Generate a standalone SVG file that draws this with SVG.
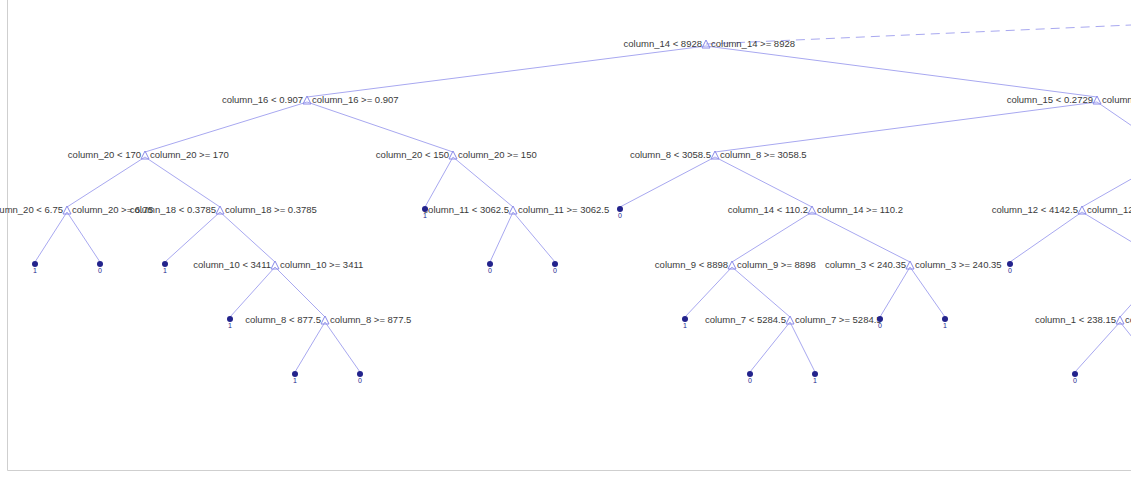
<svg xmlns="http://www.w3.org/2000/svg" width="1131" height="500" viewBox="0 0 1131 500">
<style>
.lbl{font-family:"Liberation Sans",Arial,sans-serif;font-size:9.5px;fill:#3a3a3a}
.l{text-anchor:end}
.r{text-anchor:start}
.tri{fill:none;stroke:#8a8ae8;stroke-width:1}
.edge{stroke:#a8a8f0;stroke-width:1;fill:none}
.dash{stroke-dasharray:9 6}
.leaf{fill:#23238c}
.lv{font-family:"Liberation Sans",Arial,sans-serif;font-size:7px;fill:#23238c;text-anchor:middle}
.frame{stroke:#cfcfcf;stroke-width:1;fill:none}
</style>
<defs>
<polygon id="tri" class="tri" points="-4,4 0,-4 4,4"/>
</defs>
<rect width="1131" height="500" fill="#ffffff"/>
<path class="frame" d="M7.5,0 V470.5 H1131"/>
<g id="connectors">
<line class="edge dash" x1="706" y1="44" x2="1131" y2="25"/>
<line class="edge" x1="706" y1="46" x2="307" y2="97"/>
<line class="edge" x1="706" y1="46" x2="1097" y2="97"/>
<line class="edge" x1="307" y1="102" x2="145" y2="152"/>
<line class="edge" x1="307" y1="102" x2="453" y2="152"/>
<line class="edge" x1="1097" y1="102" x2="715" y2="152"/>
<line class="edge" x1="1097" y1="102" x2="1170" y2="152"/>
<line class="edge" x1="145" y1="157" x2="67" y2="207"/>
<line class="edge" x1="145" y1="157" x2="220" y2="207"/>
<line class="edge" x1="453" y1="157" x2="425" y2="207"/>
<line class="edge" x1="453" y1="157" x2="513" y2="207"/>
<line class="edge" x1="715" y1="157" x2="620" y2="207"/>
<line class="edge" x1="715" y1="157" x2="812" y2="207"/>
<line class="edge" x1="1170" y1="157" x2="1082" y2="207"/>
<line class="edge" x1="67" y1="212" x2="35" y2="262"/>
<line class="edge" x1="67" y1="212" x2="100" y2="262"/>
<line class="edge" x1="220" y1="212" x2="165" y2="262"/>
<line class="edge" x1="220" y1="212" x2="275" y2="262"/>
<line class="edge" x1="513" y1="212" x2="490" y2="262"/>
<line class="edge" x1="513" y1="212" x2="555" y2="262"/>
<line class="edge" x1="812" y1="212" x2="732" y2="262"/>
<line class="edge" x1="812" y1="212" x2="910" y2="262"/>
<line class="edge" x1="1082" y1="212" x2="1010" y2="262"/>
<line class="edge" x1="1082" y1="212" x2="1165" y2="262"/>
<line class="edge" x1="275" y1="267" x2="230" y2="317"/>
<line class="edge" x1="275" y1="267" x2="325" y2="317"/>
<line class="edge" x1="732" y1="267" x2="685" y2="317"/>
<line class="edge" x1="732" y1="267" x2="790" y2="317"/>
<line class="edge" x1="910" y1="267" x2="880" y2="317"/>
<line class="edge" x1="910" y1="267" x2="945" y2="317"/>
<line class="edge" x1="1165" y1="267" x2="1120" y2="317"/>
<line class="edge" x1="325" y1="322" x2="295" y2="372"/>
<line class="edge" x1="325" y1="322" x2="360" y2="372"/>
<line class="edge" x1="790" y1="322" x2="750" y2="372"/>
<line class="edge" x1="790" y1="322" x2="815" y2="372"/>
<line class="edge" x1="1120" y1="322" x2="1075" y2="372"/>
<line class="edge" x1="1120" y1="322" x2="1160" y2="372"/>
</g>
<g id="n0"><use href="#tri" x="706" y="44"/><text class="lbl l" x="702" y="47">column_14 &lt; 8928</text><text class="lbl r" x="711" y="47">column_14 &gt;= 8928</text></g>
<g id="n1"><use href="#tri" x="307" y="100"/><text class="lbl l" x="303" y="103">column_16 &lt; 0.907</text><text class="lbl r" x="312" y="103">column_16 &gt;= 0.907</text></g>
<g id="n2"><use href="#tri" x="1097" y="100"/><text class="lbl l" x="1093" y="103">column_15 &lt; 0.2729</text><text class="lbl r" x="1102" y="103">column_15 &gt;= 0.2729</text></g>
<g id="n3"><use href="#tri" x="145" y="155"/><text class="lbl l" x="141" y="158">column_20 &lt; 170</text><text class="lbl r" x="150" y="158">column_20 &gt;= 170</text></g>
<g id="n4"><use href="#tri" x="453" y="155"/><text class="lbl l" x="449" y="158">column_20 &lt; 150</text><text class="lbl r" x="458" y="158">column_20 &gt;= 150</text></g>
<g id="n5"><use href="#tri" x="715" y="155"/><text class="lbl l" x="711" y="158">column_8 &lt; 3058.5</text><text class="lbl r" x="720" y="158">column_8 &gt;= 3058.5</text></g>
<g id="n6"><use href="#tri" x="67" y="210"/><text class="lbl l" x="63" y="213">column_20 &lt; 6.75</text><text class="lbl r" x="72" y="213">column_20 &gt;= 6.75</text></g>
<g id="n7"><use href="#tri" x="220" y="210"/><text class="lbl l" x="216" y="213">column_18 &lt; 0.3785</text><text class="lbl r" x="225" y="213">column_18 &gt;= 0.3785</text></g>
<g id="n8"><use href="#tri" x="513" y="210"/><text class="lbl l" x="509" y="213">column_11 &lt; 3062.5</text><text class="lbl r" x="518" y="213">column_11 &gt;= 3062.5</text></g>
<g id="n9"><use href="#tri" x="812" y="210"/><text class="lbl l" x="808" y="213">column_14 &lt; 110.2</text><text class="lbl r" x="817" y="213">column_14 &gt;= 110.2</text></g>
<g id="n10"><use href="#tri" x="1082" y="210"/><text class="lbl l" x="1078" y="213">column_12 &lt; 4142.5</text><text class="lbl r" x="1087" y="213">column_12 &gt;= 4142.5</text></g>
<g id="n11"><use href="#tri" x="275" y="265"/><text class="lbl l" x="271" y="268">column_10 &lt; 3411</text><text class="lbl r" x="280" y="268">column_10 &gt;= 3411</text></g>
<g id="n12"><use href="#tri" x="732" y="265"/><text class="lbl l" x="728" y="268">column_9 &lt; 8898</text><text class="lbl r" x="737" y="268">column_9 &gt;= 8898</text></g>
<g id="n13"><use href="#tri" x="910" y="265"/><text class="lbl l" x="906" y="268">column_3 &lt; 240.35</text><text class="lbl r" x="915" y="268">column_3 &gt;= 240.35</text></g>
<g id="n14"><use href="#tri" x="325" y="320"/><text class="lbl l" x="321" y="323">column_8 &lt; 877.5</text><text class="lbl r" x="330" y="323">column_8 &gt;= 877.5</text></g>
<g id="n15"><use href="#tri" x="790" y="320"/><text class="lbl l" x="786" y="323">column_7 &lt; 5284.5</text><text class="lbl r" x="795" y="323">column_7 &gt;= 5284.5</text></g>
<g id="n16"><use href="#tri" x="1120" y="320"/><text class="lbl l" x="1116" y="323">column_1 &lt; 238.15</text><text class="lbl r" x="1125" y="323">column_1 &gt;= 238.15</text></g>
<g id="leaf1"><circle class="leaf" cx="35" cy="264" r="3"/><text class="lv" x="35" y="273">1</text></g>
<g id="leaf2"><circle class="leaf" cx="100" cy="264" r="3"/><text class="lv" x="100" y="273">0</text></g>
<g id="leaf3"><circle class="leaf" cx="165" cy="264" r="3"/><text class="lv" x="165" y="273">1</text></g>
<g id="leaf4"><circle class="leaf" cx="425" cy="209" r="3"/><text class="lv" x="425" y="218">1</text></g>
<g id="leaf5"><circle class="leaf" cx="620" cy="209" r="3"/><text class="lv" x="620" y="218">0</text></g>
<g id="leaf6"><circle class="leaf" cx="490" cy="264" r="3"/><text class="lv" x="490" y="273">0</text></g>
<g id="leaf7"><circle class="leaf" cx="555" cy="264" r="3"/><text class="lv" x="555" y="273">0</text></g>
<g id="leaf8"><circle class="leaf" cx="1010" cy="264" r="3"/><text class="lv" x="1010" y="273">0</text></g>
<g id="leaf9"><circle class="leaf" cx="230" cy="319" r="3"/><text class="lv" x="230" y="328">1</text></g>
<g id="leaf10"><circle class="leaf" cx="685" cy="319" r="3"/><text class="lv" x="685" y="328">1</text></g>
<g id="leaf11"><circle class="leaf" cx="880" cy="319" r="3"/><text class="lv" x="880" y="328">0</text></g>
<g id="leaf12"><circle class="leaf" cx="945" cy="319" r="3"/><text class="lv" x="945" y="328">1</text></g>
<g id="leaf13"><circle class="leaf" cx="295" cy="374" r="3"/><text class="lv" x="295" y="383">1</text></g>
<g id="leaf14"><circle class="leaf" cx="360" cy="374" r="3"/><text class="lv" x="360" y="383">0</text></g>
<g id="leaf15"><circle class="leaf" cx="750" cy="374" r="3"/><text class="lv" x="750" y="383">0</text></g>
<g id="leaf16"><circle class="leaf" cx="815" cy="374" r="3"/><text class="lv" x="815" y="383">1</text></g>
<g id="leaf17"><circle class="leaf" cx="1075" cy="374" r="3"/><text class="lv" x="1075" y="383">0</text></g>
</svg>
